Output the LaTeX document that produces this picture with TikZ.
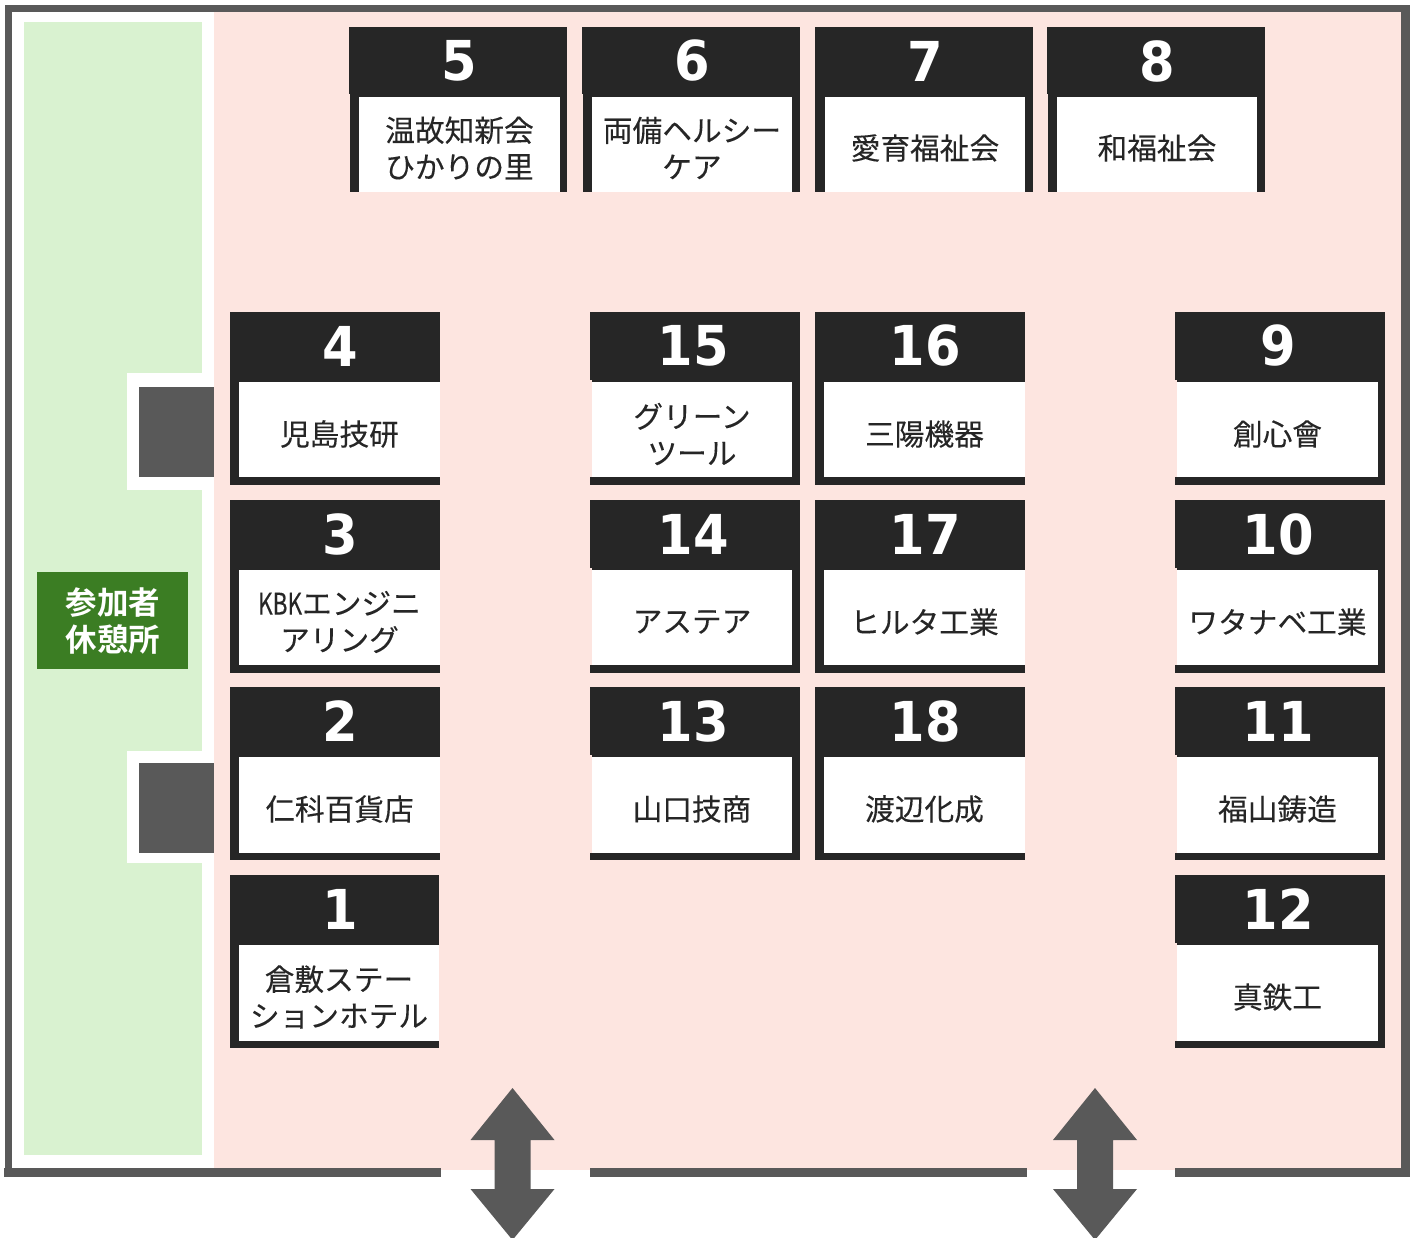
\documentclass[tikz,border=0pt]{standalone}
\usepackage{fontspec}
\setmainfont[FakeBold=0.12]{Noto Sans CJK JP}
\newfontfamily\numfont[FakeStretch=0.93]{DejaVu Sans Bold}
\newfontfamily\narrowlatin[FakeStretch=0.76,FakeBold=0.12]{Noto Sans CJK JP}
\newfontfamily\boldcjk{Noto Sans CJK JP Bold}
\definecolor{framegrey}{HTML}{595959}
\definecolor{boothdark}{HTML}{262626}
\definecolor{hallpink}{HTML}{FDE5E0}
\definecolor{restgreen}{HTML}{D9F2D0}
\definecolor{restlabel}{HTML}{3B7D23}
\tikzset{
  x=1pt,y=-1pt,
  greyfill/.style={fill=framegrey,draw=none},
  darkfill/.style={fill=boothdark,draw=none},
  whitefill/.style={fill=white,draw=none},
  numlabel/.style={text=white,inner sep=0pt,font=\numfont\fontsize{55}{55}\selectfont},
  namelabel/.style={text=boothdark,inner sep=0pt,align=center,font=\fontsize{29.7}{36.5}\selectfont},
  restlabelstyle/.style={text=white,inner sep=0pt,align=center,font=\boldcjk\fontsize{31.5}{37}\selectfont},
}
\newcommand{\standardbooth}[8]{% id x0 x1 wx0 wx1 y0 number name
  \fill[darkfill] (#2,#6) rectangle (#3,{#6+173});
  \fill[whitefill] (#4,#6+70) rectangle (#5,{#6+165+(#6>600)});
  \node[numlabel] (n#1) at ({(#4+#5)/2+1},#6+34) {#7};
  \node[namelabel] (t#1) at ({(#4+#5)/2},#6+122) {#8};
}
\newcommand{\openleftbooth}[8]{% as above, body without the dark left side
  \standardbooth{#1}{#2}{#3}{#4}{#5}{#6}{#7}{#8}
  \fill[hallpink] (#2,#6+68) rectangle (#4,{#6+165+(#6>600)});
}
\newcommand{\topbooth}[8]{% id x0 bar-x0 x1 wx0 wx1 number name
  \fill[darkfill] (#2,27) rectangle (#4,94);
  \fill[darkfill] (#3,94) rectangle (#4,192);
  \fill[whitefill] (#5,97) rectangle (#6,192);
  \node[numlabel] (n#1) at ({(#5+#6)/2},61) {#7};
  \node[namelabel] (t#1) at ({(#5+#6)/2},148) {#8};
}
\newcommand{\doorarrow}[1]{%
  \fill[greyfill] (#1,1088) -- (#1+42,1140) -- (#1+18,1140) -- (#1+18,1189) -- (#1+42,1189)
    -- (#1,1240) -- (#1-42,1189) -- (#1-18,1189) -- (#1-18,1140) -- (#1-42,1140) -- cycle;
}
\begin{document}
\begin{tikzpicture}
\useasboundingbox (0,0) rectangle (1415,1238);
\fill[white] (0,0) rectangle (1415,1238);
% hall and rest area
\fill[hallpink] (214,12) rectangle (1401,1170);
\fill[restgreen] (24,22) rectangle (202,1155);
% frame
\fill[greyfill] (5,5) rectangle (1410,12);
\fill[greyfill] (5,5) rectangle (12,1177);
\fill[greyfill] (1401,5) rectangle (1410,1177);
\fill[greyfill] (4,1168) rectangle (441,1177);
\fill[greyfill] (590,1168) rectangle (1027,1177);
\fill[greyfill] (1175,1168) rectangle (1410,1177);
% grey squares on the rest area wall
\fill[whitefill] (127,373) rectangle (214,490);
\fill[greyfill] (139,387) rectangle (214,477);
\fill[whitefill] (127,751) rectangle (214,863);
\fill[greyfill] (139,763) rectangle (214,853);
% rest label
\node[fill=restlabel,minimum width=151pt,minimum height=97pt,inner sep=0pt] (rest) at (112.5,620.5) {};
\node[restlabelstyle] (restt) at (113,621) {参加者\\休憩所};
% top row
\topbooth{5}{349}{350}{567}{359}{560}{5}{温故知新会\\ひかりの里}
\topbooth{6}{582}{583}{800}{592}{792}{6}{両備ヘルシー\\ケア}
\topbooth{7}{815}{815}{1033}{825}{1025}{7}{愛育福祉会}
\topbooth{8}{1047}{1048}{1265}{1057}{1257}{8}{和福祉会}
% left column
\standardbooth{4}{230}{440}{239}{440}{312}{4}{児島技研}
\standardbooth{3}{230}{440}{239}{440}{500}{3}{{\narrowlatin KBK}エンジニ\\アリング}
\standardbooth{2}{230}{440}{239}{440}{687}{2}{仁科百貨店}
\standardbooth{1}{230}{439}{239}{439}{875}{1}{倉敷ステー\\ションホテル}
% middle columns
\openleftbooth{15}{590}{800}{592}{792}{312}{15}{グリーン\\ツール}
\openleftbooth{14}{590}{800}{592}{792}{500}{14}{アステア}
\openleftbooth{13}{590}{800}{592}{792}{687}{13}{山口技商}
\standardbooth{16}{815}{1025}{824}{1025}{312}{16}{三陽機器}
\standardbooth{17}{815}{1025}{824}{1025}{500}{17}{ヒルタ工業}
\standardbooth{18}{815}{1025}{824}{1025}{687}{18}{渡辺化成}
% right column
\openleftbooth{9}{1175}{1385}{1177}{1378}{312}{9}{創心會}
\openleftbooth{10}{1175}{1385}{1177}{1378}{500}{10}{ワタナベ工業}
\openleftbooth{11}{1175}{1385}{1177}{1378}{687}{11}{福山鋳造}
\openleftbooth{12}{1175}{1385}{1177}{1378}{875}{12}{真鉄工}
% doors
\doorarrow{512.5}
\doorarrow{1095}
\end{tikzpicture}
\end{document}
